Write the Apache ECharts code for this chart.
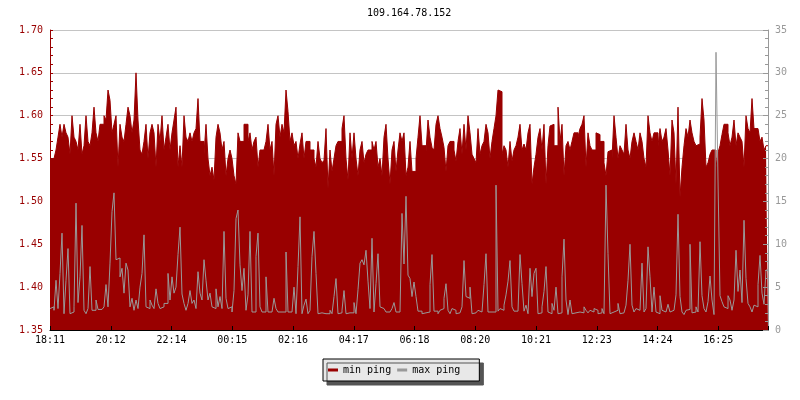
<!DOCTYPE html>
<html><head><meta charset="utf-8">
<script src="https://cdn.jsdelivr.net/npm/echarts@6/dist/echarts.min.js"></script>
<style>html,body{margin:0;padding:0;background:#fff}#c{width:800px;height:400px}</style>
</head><body><div id="c"></div>
<script>
const titleText = '109.164.78.152';
const timeLabels = ['18:11','20:12','22:14','00:15','02:16','04:17','06:18','08:20','10:21','12:23','14:24','16:25'];
const samplesPerLabel = 30.375;

// min ping (left axis), one sample every 4 minutes
const minPing = [
1.550,1.550,1.550,1.560,1.575,1.590,1.575,1.590,1.580,1.575,
1.555,1.600,1.575,1.570,1.560,1.590,1.555,1.565,1.600,1.570,
1.565,1.580,1.610,1.580,1.570,1.590,1.590,1.600,1.595,1.630,
1.618,1.580,1.590,1.600,1.540,1.590,1.575,1.570,1.590,1.610,
1.600,1.580,1.595,1.650,1.595,1.560,1.555,1.570,1.590,1.550,
1.580,1.590,1.580,1.540,1.590,1.570,1.600,1.560,1.575,1.590,
1.560,1.580,
1.595,1.610,1.540,1.565,1.540,1.600,1.575,1.570,
1.580,1.570,1.580,1.585,1.620,1.570,1.570,1.555,1.590,1.550,
1.530,1.540,1.525,1.575,1.590,1.580,1.560,1.570,1.530,1.550,
1.560,1.550,1.530,1.520,1.580,1.570,1.570,1.590,1.590,1.570,
1.580,1.560,1.570,1.575,1.540,1.560,1.560,1.560,1.570,1.590,
1.560,1.570,1.530,1.590,1.600,1.575,1.590,1.580,1.630,1.605,
1.570,1.580,
1.565,1.570,1.550,1.567,1.580,1.550,1.570,1.570,
1.560,1.560,1.550,1.540,1.570,1.550,1.545,1.548,1.585,1.515,
1.560,1.535,1.550,1.565,1.570,1.570,1.585,1.600,1.550,1.525,
1.580,1.550,1.580,1.550,1.530,1.560,1.570,1.545,1.555,1.560,
1.560,1.570,1.560,1.570,1.540,1.550,1.530,1.575,1.590,1.550,
1.520,1.560,1.570,1.535,1.560,1.580,1.570,1.580,1.530,1.540,
1.570,1.535,
1.535,1.550,1.575,1.600,1.565,1.565,1.558,1.595,
1.575,1.563,1.560,1.590,1.600,1.585,1.575,1.563,1.535,1.565,
1.570,1.570,1.560,1.547,1.570,1.585,1.555,1.590,1.560,1.600,
1.580,1.555,1.550,1.545,1.585,1.555,1.565,1.570,1.590,1.580,
1.550,1.570,1.585,1.600,1.630,1.628,1.555,1.565,1.560,1.540,
1.570,1.547,1.560,1.565,1.575,1.590,1.560,1.567,1.560,1.580,
1.590,1.520,
1.540,1.555,1.575,1.585,1.560,1.590,1.520,1.565,
1.588,1.590,1.565,1.565,1.610,1.570,1.590,1.530,1.565,1.570,
1.560,1.570,1.580,1.580,1.575,1.585,1.590,1.600,1.540,1.580,
1.565,1.560,1.560,1.580,1.578,1.570,1.570,1.545,1.530,1.558,
1.560,1.550,1.600,1.575,1.550,1.565,1.560,1.555,1.590,1.560,
1.550,1.570,1.580,1.570,1.560,1.580,1.570,1.550,1.540,1.600,
1.580,1.570,
1.580,1.580,1.565,1.585,1.570,1.575,1.585,1.560,
1.530,1.595,1.580,1.520,1.610,1.505,1.540,1.565,1.585,1.575,
1.595,1.580,1.570,1.565,1.567,1.575,1.620,1.595,1.540,1.545,
1.555,1.560,1.560,1.540,1.557,1.565,1.578,1.590,1.590,1.580,
1.565,1.575,1.595,1.565,1.580,1.575,1.570,1.540,1.600,1.585,
1.580,1.620,1.585,1.585,1.585,1.570,1.575,1.560,1.565
];

// max ping (right axis)
const maxPing = [
2.5,2.7,2.3,5.8,2.5,6.6,11.3,1.9,5.8,9.5,
1.9,2.1,2.7,14.8,3.2,6.2,12.2,2.3,1.9,2.5,
7.4,2.3,2.3,3.5,2.4,2.4,2.4,2.7,5.3,2.7,
7.8,13.8,16.0,8.2,8.4,6.2,7.2,4.3,7.8,7.0,
2.7,3.7,2.3,3.5,2.5,5.0,6.6,11.1,2.7,2.5,
3.5,2.9,2.5,4.8,3.1,2.5,2.7,3.1,3.1,6.6,
3.5,6.2,
4.3,5.0,8.8,12.0,4.2,3.1,2.3,3.1,
4.6,3.1,3.5,2.5,6.8,4.3,3.5,8.2,5.8,3.5,
4.3,2.7,2.5,4.8,2.7,3.9,2.5,11.5,3.7,2.5,
2.7,2.1,4.6,13.0,14.0,7.6,4.6,7.2,2.3,4.1,
11.5,2.1,2.1,8.6,11.3,2.7,2.1,2.1,6.2,2.1,
2.1,2.1,3.7,2.5,2.1,2.1,2.1,2.1,9.1,2.1,
2.1,2.1,
5.0,1.9,7.4,13.2,1.9,2.9,3.6,1.9,
2.3,8.6,11.5,6.6,1.9,2.0,2.1,1.9,2.1,1.9,
2.3,1.9,3.9,6.0,1.9,2.0,2.3,4.6,1.9,2.0,
1.9,2.0,3.2,1.9,4.7,7.8,8.2,7.6,9.3,5.7,
2.5,10.7,2.1,5.4,8.9,2.7,2.5,2.7,2.1,2.1,
2.1,2.5,3.2,2.1,2.1,1.9,13.6,7.7,15.6,6.4,
6.0,3.9,
5.6,3.9,2.2,2.2,1.9,2.0,1.9,2.1,
5.3,8.8,2.2,2.2,1.9,2.3,2.5,3.7,5.4,2.3,
1.9,2.5,2.3,1.9,2.0,1.9,2.7,8.1,3.9,3.7,
5.0,1.9,2.0,2.0,2.3,2.1,2.1,5.3,8.9,2.1,
2.1,2.1,2.1,16.9,2.2,2.5,2.3,2.9,4.1,5.7,
8.1,2.7,2.2,2.2,2.1,8.8,5.4,2.2,2.9,1.9,
7.2,3.9,
6.6,7.2,1.9,2.0,2.7,4.5,7.4,2.1,
1.9,3.1,2.3,5.0,1.9,2.0,6.2,10.6,3.5,1.8,
3.5,1.9,2.0,1.9,2.1,2.0,2.0,2.7,2.3,2.0,
2.3,2.1,2.5,2.3,1.9,2.0,2.5,1.9,16.9,8.9,
1.9,2.1,2.1,2.3,3.1,1.9,2.0,1.9,2.9,5.8,
10.0,2.9,2.1,2.5,2.3,2.1,7.8,2.1,2.5,9.7,
6.2,2.1,
5.0,2.1,1.9,4.0,2.3,2.1,1.9,3.0,
2.1,2.3,2.5,4.1,13.5,3.9,2.1,1.8,2.3,2.4,
10.0,2.0,2.1,2.7,2.1,10.3,4.0,2.5,2.1,3.3,
6.3,3.5,1.8,32.4,17.5,4.0,3.3,2.7,2.5,4.0,
3.5,2.3,3.5,9.3,4.5,7.0,3.2,12.8,6.0,3.1,
2.7,2.1,2.9,2.7,5.3,8.7,4.3,3.0,7.0
];

const F = '"DejaVu Sans Mono", monospace';
const RED = '#990000', GRAY = '#999999';
const toPairs = arr => arr.map((v, i) => [i, v]).concat([[arr.length, arr[arr.length - 1]]]);

const chart = echarts.init(document.getElementById('c'), null, {renderer: 'canvas'});
chart.setOption({
  animation: false,
  backgroundColor: '#fff',
  title: {text: titleText, left: 367, top: 8, padding: 0,
    textStyle: {fontFamily: F, fontSize: 10, fontWeight: 'normal', color: '#000'}},
  grid: {left: 50, right: 32, top: 30, bottom: 70, containLabel: false},
  legend: {data: ['min ping', 'max ping'], left: 323, top: 359, icon: 'rect',
    itemWidth: 10, itemHeight: 3, itemGap: 6, padding: [6, 19, 6, 5],
    backgroundColor: '#e8e8e8', borderColor: '#000', borderWidth: 1,
    shadowColor: '#555', shadowOffsetX: 4, shadowOffsetY: 4, shadowBlur: 0,
    selectedMode: false,
    textStyle: {fontFamily: F, fontSize: 10, color: '#000'}},
  xAxis: {type: 'value', min: 0, max: minPing.length, interval: samplesPerLabel, z: 3,
    axisLine: {lineStyle: {color: '#000'}},
    axisTick: {inside: true, length: 4, lineStyle: {color: '#000'}},
    axisLabel: {color: '#000', fontFamily: F, fontSize: 10, margin: 5,
      formatter: v => timeLabels[Math.round(v / samplesPerLabel)] || ''},
    splitLine: {show: false}},
  yAxis: [
    {type: 'value', min: 1.35, max: 1.70, interval: 0.05, position: 'left',
      axisLine: {show: true, lineStyle: {color: RED}},
      axisTick: {show: true, inside: true, length: 3, lineStyle: {color: RED}},
      minorTick: {show: true, splitNumber: 5, length: 3, lineStyle: {color: RED}},
      axisLabel: {color: RED, fontFamily: F, fontSize: 10, margin: 7, formatter: v => v.toFixed(2)},
      splitLine: {show: true, lineStyle: {color: '#c4c4c4'}}},
    {type: 'value', min: 0, max: 35, interval: 5, position: 'right', z: 3,
      axisLine: {show: true, lineStyle: {color: GRAY}},
      axisTick: {show: true, inside: true, length: 5, lineStyle: {color: GRAY}},
      minorTick: {show: true, splitNumber: 5, length: 3, lineStyle: {color: GRAY}},
      axisLabel: {color: GRAY, fontFamily: F, fontSize: 10, margin: 7},
      splitLine: {show: false}}
  ],
  series: [
    {name: 'min ping', type: 'line', yAxisIndex: 0, step: 'end', showSymbol: false, symbol: 'none',
      data: toPairs(minPing), itemStyle: {color: RED},
      lineStyle: {color: RED, width: 1}, areaStyle: {color: RED, opacity: 1, origin: 'start'}},
    {name: 'max ping', type: 'line', yAxisIndex: 1, step: 'end', showSymbol: false, symbol: 'none',
      data: toPairs(maxPing), itemStyle: {color: GRAY},
      lineStyle: {color: GRAY, width: 1}}
  ]
});
</script></body></html>
